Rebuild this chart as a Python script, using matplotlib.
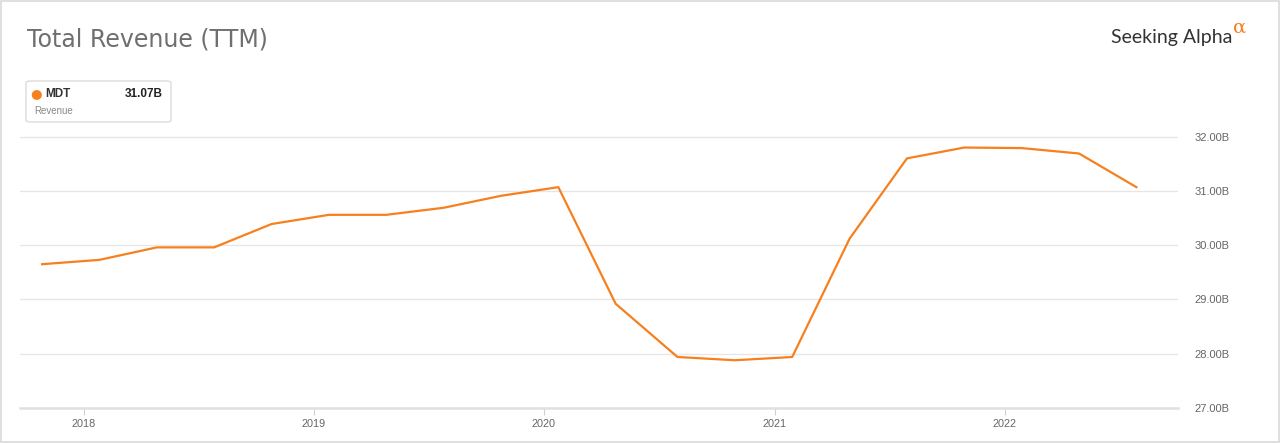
import matplotlib
matplotlib.use("Agg")
import matplotlib.pyplot as plt
import matplotlib.dates as mdates
from matplotlib.patches import FancyBboxPatch, Rectangle
import datetime as dt

# ---- data ----
dates = ["2017-10-27", "2018-01-26", "2018-04-27", "2018-07-27", "2018-10-26",
         "2019-01-25", "2019-04-26", "2019-07-26", "2019-10-25", "2020-01-24",
         "2020-04-24", "2020-07-31", "2020-10-30", "2021-01-29", "2021-04-30",
         "2021-07-30", "2021-10-29", "2022-01-28", "2022-04-29", "2022-07-29"]
revenue = [29.65, 29.73, 29.96, 29.96, 30.39,
           30.56, 30.56, 30.69, 30.91, 31.07,
           28.92, 27.94, 27.88, 27.94, 30.12,
           31.60, 31.80, 31.79, 31.69, 31.07]
year_ticks = [2018, 2019, 2020, 2021, 2022]
y_ticks = [27, 28, 29, 30, 31, 32]
title = "Total Revenue (TTM)"
ticker = "MDT"
metric = "Revenue"
last_label = "31.07B"

plt.rcParams['font.family'] = ['Liberation Sans', 'DejaVu Sans']

W, H = 1280, 443
fig = plt.figure(figsize=(W / 100, H / 100), dpi=100)

def fx(px):
    return px / W

def fy(py):
    return 1 - py / H

# outer frame
fig.patches.append(Rectangle((fx(0.5), fy(441.5)), fx(1278.5), 440.5 / H, transform=fig.transFigure,
                             fill=False, edgecolor="#d9d9d9", linewidth=1.2))

left, right = 20, 1178
top, bottom = 128, 408
ax = fig.add_axes([fx(left), fy(bottom), fx(right - left), (bottom - top) / H])

xd = [mdates.date2num(dt.datetime.strptime(d, "%Y-%m-%d")) for d in dates]
ax.plot(xd, revenue, color="#f7801e", linewidth=1.6, solid_joinstyle="round")

x0 = mdates.date2num(dt.datetime(2017, 9, 22))
x1 = mdates.date2num(dt.datetime(2022, 10, 3))
ax.set_xlim(x0, x1)
ax.set_ylim(27, 32.16)

ax.set_xticks([mdates.date2num(dt.datetime(y, 1, 1)) for y in year_ticks])
ax.set_xticklabels([str(y) for y in year_ticks])
ax.set_yticks(y_ticks)
ax.set_yticklabels([f"{v:.2f}B" for v in y_ticks])
ax.yaxis.tick_right()
ax.tick_params(axis="y", length=0, pad=12, labelsize=8, labelcolor="#666666")
ax.tick_params(axis="x", length=5, width=0.8, color="#d0d0d0", pad=3, labelsize=7.8, labelcolor="#666666")
ax.grid(axis="y", color="#e6e6e6", linewidth=0.9)
ax.set_axisbelow(True)
for s in ["top", "left", "right"]:
    ax.spines[s].set_visible(False)
ax.spines["bottom"].set_color("#e0e0e0")
ax.spines["bottom"].set_linewidth(1.8)

# title
fig.text(fx(27), fy(40), title, fontsize=17, color="#6f6f6f", va="center", ha="left",
         family=["DejaVu Sans"])

# logo
fig.text(fx(1232), fy(37), "Seeking Alpha", fontsize=14, color="#333333", va="center", ha="right",
         family=["Lato", "DejaVu Sans"])
fig.text(fx(1233), fy(28), "α", fontsize=14, color="#f7801e", va="center", ha="left",
         family=["DejaVu Serif"])

# legend box
fig.patches.append(FancyBboxPatch((fx(26), fy(122)), fx(145), 41 / H,
                                  boxstyle="round,pad=0,rounding_size=0.004",
                                  transform=fig.transFigure, fill=True, facecolor="white",
                                  edgecolor="#dcdcdc", linewidth=1.0))
fig.text(fx(36), fy(94), "●", fontsize=9.5, color="#f7801e", va="center", ha="center",
         family=["DejaVu Sans"])
fig.text(fx(45), fy(94), ticker, fontsize=8.5, fontweight="bold", color="#333333", va="center", ha="left")
fig.text(fx(163), fy(94), last_label, fontsize=8.5, fontweight="bold", color="#222222", va="center", ha="right")
fig.text(fx(34), fy(111), metric, fontsize=7, color="#888888", va="center", ha="left")

fig.savefig("out.png", dpi=100)
